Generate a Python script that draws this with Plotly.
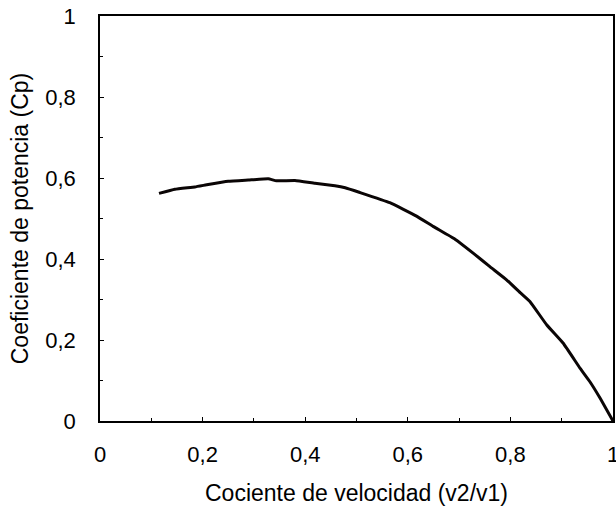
import plotly.graph_objects as go

ratio = [0.115, 0.146, 0.185, 0.211, 0.250, 0.289, 0.328, 0.344, 0.380, 0.419,
         0.458, 0.478, 0.507, 0.565, 0.617, 0.650, 0.692, 0.728, 0.760, 0.793,
         0.819, 0.838, 0.871, 0.903, 0.936, 0.955, 0.975, 1.000]
cp = [0.562, 0.572, 0.578, 0.584, 0.592, 0.595, 0.598, 0.593, 0.594, 0.587,
      0.581, 0.576, 0.564, 0.539, 0.506, 0.480, 0.449, 0.414, 0.381, 0.348,
      0.317, 0.295, 0.237, 0.192, 0.130, 0.097, 0.056, 0.000]

x_title = "Cociente de velocidad (v2/v1)"
y_title = "Coeficiente de potencia (Cp)"

font_family = "Liberation Sans, Arial, sans-serif"

fig = go.Figure()
fig.add_trace(go.Scatter(x=ratio, y=cp, mode="lines",
                         line=dict(color="#0a0505", width=3, shape="spline", smoothing=0.3),
                         showlegend=False, hoverinfo="skip", cliponaxis=False))

axis_common = dict(
    range=[0, 1], dtick=0.2, tick0=0,
    showgrid=False, zeroline=False, automargin=False,
    showline=True, linecolor="black", linewidth=1.5, mirror=True,
    ticks="inside", ticklen=4, tickwidth=1.3, tickcolor="black",
    minor=dict(dtick=0.1, ticks="inside", ticklen=3, tickwidth=1.2, tickcolor="black", showgrid=False),
    tickfont=dict(family=font_family, size=22, color="black"),
    title_font=dict(family=font_family, size=23, color="black"),
    ticklabeloverflow="allow",
)

fig.update_xaxes(**axis_common, title_text=x_title, ticklabelstandoff=13, title_standoff=21)
fig.update_yaxes(**axis_common, title_text=y_title, ticklabelstandoff=18, title_standoff=10)

fig.update_layout(
    width=616, height=506,
    margin=dict(l=100, r=3, t=16, b=85),
    paper_bgcolor="white", plot_bgcolor="white",
    separators=",.",
)

fig.write_html(
    "out.html",
    config={"displayModeBar": False},
    post_script="document.body.style.margin='0';document.body.style.overflow='hidden';",
)
